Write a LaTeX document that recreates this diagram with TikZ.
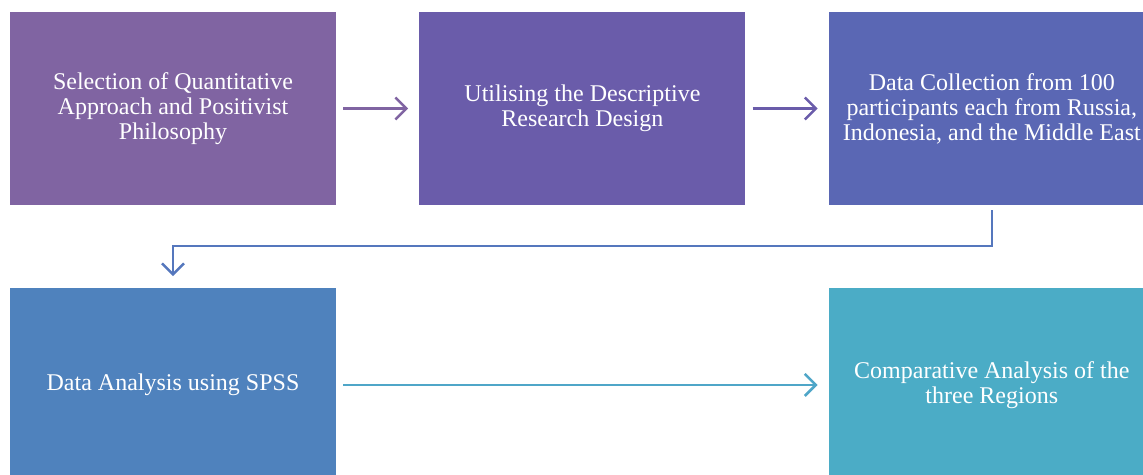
\documentclass[tikz,border=0pt]{standalone}
\usepackage{fontspec}
\setmainfont{Liberation Serif}
\usetikzlibrary{positioning,arrows.meta}

\definecolor{stageA}{HTML}{8064A2}
\definecolor{stageB}{HTML}{6A5CAA}
\definecolor{stageC}{HTML}{5A67B4}
\definecolor{stageD}{HTML}{4F82BD}
\definecolor{stageE}{HTML}{4BACC6}
\definecolor{linkC}{HTML}{5577BD}
\definecolor{linkD}{HTML}{4FA6C8}

\begin{document}
\begin{tikzpicture}[x=1pt, y=-1pt,
% node style
stage/.style={rectangle, minimum width=326pt, minimum height=193pt, inner sep=0pt,
  text=white, align=center, font=\fontsize{24}{25}\selectfont},
link/.style={-{Straight Barb[length=11pt, width=22pt]}, line width=2.5pt,
  shorten <=7pt, shorten >=11pt}
]
\clip (0,0) rectangle (1143,474);

% nodes
\node[stage, fill=stageA] (select) at (173,108.5) {Selection of Quantitative\\Approach and Positivist\\Philosophy};
\node[stage, fill=stageB] (design) [right=83pt of select] {Utilising the Descriptive\\Research Design};
\node[stage, fill=stageC] (collect) [right=83pt of design] {Data Collection from 100\\participants each from Russia,\\Indonesia, and the Middle East};
\node[stage, fill=stageD] (analyse) [below=83pt of select] {Data Analysis using SPSS};
\node[stage, fill=stageE] (compare) [below=83pt of collect] {Comparative Analysis of the\\three Regions};

% draw arrows between nodes
\draw[link, stageA] (select.east) -- (design.west);
\draw[link, stageB] (design.east) -- (collect.west);
\draw[link, linkC, shorten <=5pt, shorten >=12pt] (collect.south) -- ++(0,41) -| (analyse.north);
\draw[link, linkD] (analyse.east) -- (compare.west);

\end{tikzpicture}
\end{document}
